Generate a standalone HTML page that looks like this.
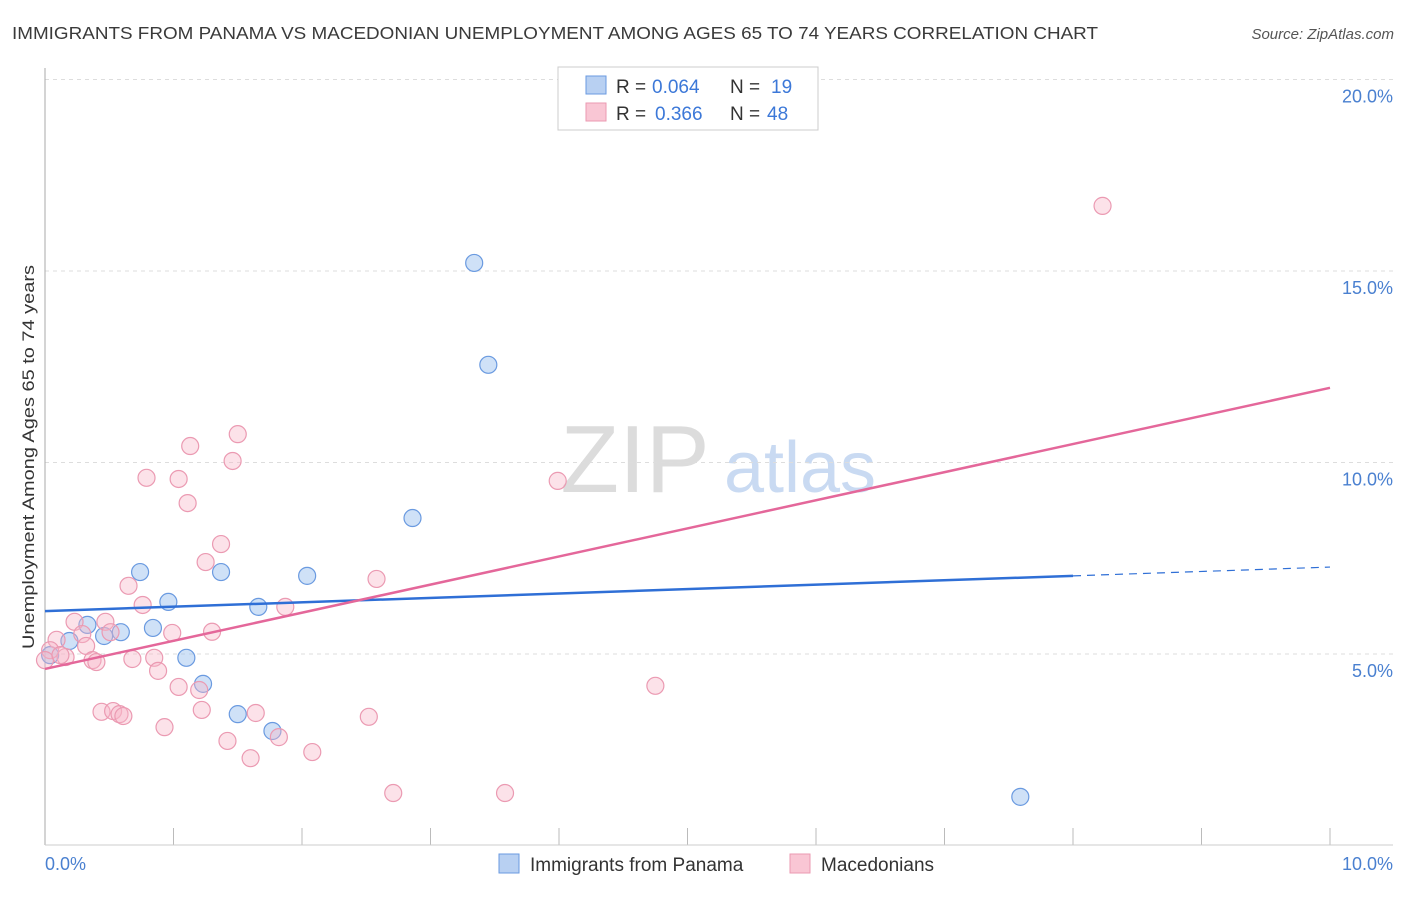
<!DOCTYPE html>
<html><head><meta charset="utf-8"><style>
body{margin:0;background:#fff;font-family:"Liberation Sans",sans-serif}
svg text{font-family:"Liberation Sans",sans-serif}
</style></head><body>
<svg id="c" width="1406" height="892">
<text x="12" y="39" font-size="17.5" fill="#3a3a3a" textLength="1086" lengthAdjust="spacingAndGlyphs">IMMIGRANTS FROM PANAMA VS MACEDONIAN UNEMPLOYMENT AMONG AGES 65 TO 74 YEARS CORRELATION CHART</text>
<text x="1394" y="39" font-size="15" fill="#555" font-style="italic" text-anchor="end">Source: ZipAtlas.com</text>
<text x="635" y="492" font-size="96" fill="#dcdcdc" font-family="Liberation Serif" text-anchor="middle">ZIP</text>
<text x="800" y="492" font-size="72" fill="#c9daf2" text-anchor="middle">atlas</text>
<g id="grid"></g>
<line x1="45" y1="68" x2="45" y2="845" stroke="#aaa"/>
<line x1="45" y1="845" x2="1393" y2="845" stroke="#ccc"/>
<g id="marks"></g>
<text transform="translate(34,457) rotate(-90)" font-size="17" fill="#333" text-anchor="middle" textLength="384" lengthAdjust="spacingAndGlyphs">Unemployment Among Ages 65 to 74 years</text>
<text x="45" y="870" font-size="18" fill="#4a80d0">0.0%</text>
<text x="1393" y="870" font-size="18" fill="#4a80d0" text-anchor="end">10.0%</text>
<g>
<rect x="558" y="67" width="260" height="63" fill="#fff" stroke="#ccc"/>
<rect x="586" y="76" width="20" height="18" fill="#b8d0f2" stroke="#6a9ae0"/>
<rect x="586" y="103" width="20" height="18" fill="#f9c6d4" stroke="#eb9ab2"/>
<text x="616" y="93" font-size="19" fill="#333">R =</text>
<text x="652" y="93" font-size="19" fill="#3c78d8">0.064</text>
<text x="730" y="93" font-size="19" fill="#333">N =</text>
<text x="771" y="93" font-size="19" fill="#3c78d8">19</text>
<text x="616" y="120" font-size="19" fill="#333">R =</text>
<text x="655" y="120" font-size="19" fill="#3c78d8">0.366</text>
<text x="730" y="120" font-size="19" fill="#333">N =</text>
<text x="767" y="120" font-size="19" fill="#3c78d8">48</text>
</g>
<g>
<rect x="499" y="854" width="20" height="19" fill="#b8d0f2" stroke="#6a9ae0"/>
<text x="530" y="871" font-size="19" fill="#333">Immigrants from Panama</text>
<rect x="790" y="854" width="20" height="19" fill="#f9c6d4" stroke="#eb9ab2"/>
<text x="821" y="871" font-size="19" fill="#333">Macedonians</text>
</g>
</svg>
<script>
const yTicks=[5,10,15,20];
const yTickLabels=["5.0%","10.0%","15.0%","20.0%"];
const xTicks=[0,1,2,3,4,5,6,7,8,9,10];
const blueX=[3.34,3.45,2.86,0.74,1.37,2.04,0.96,1.66,0.33,0.84,0.59,0.46,0.19,1.10,1.23,1.50,1.77,7.59,0.04];
const blueY=[15.21,12.55,8.55,7.14,7.14,7.04,6.36,6.23,5.76,5.68,5.57,5.47,5.34,4.90,4.22,3.43,2.99,1.27,4.97];
const pinkX=[8.23,1.50,1.13,1.46,0.79,1.04,3.99,1.11,1.37,1.25,2.58,0.65,0.76,1.87,0.99,1.30,0.47,0.23,0.29,0.32,0.09,0.04,0.16,0.37,0.40,0.68,0.85,0.88,1.04,1.20,4.75,1.22,0.44,0.53,0.58,0.61,2.52,0.93,1.64,1.42,1.82,2.08,1.60,2.71,3.58,0.0,0.12,0.51];
const pinkY=[16.70,10.74,10.43,10.04,9.60,9.57,9.52,8.94,7.87,7.40,6.96,6.78,6.28,6.23,5.55,5.58,5.84,5.84,5.52,5.21,5.37,5.10,4.92,4.84,4.79,4.87,4.90,4.56,4.14,4.06,4.17,3.54,3.49,3.51,3.43,3.38,3.36,3.09,3.46,2.73,2.83,2.44,2.28,1.37,1.37,4.84,4.97,5.57];
const blueLine=[6.12,7.27];
const blueSolidEnd=8;
const pinkLine=[4.61,11.95];
const xs=v=>45+v*128.5, ys=v=>845.5-v*38.3;
const NS="http://www.w3.org/2000/svg";
function mk(t,a,p){const e=document.createElementNS(NS,t);for(const k in a)e.setAttribute(k,a[k]);p.appendChild(e);return e;}
const g=document.getElementById('grid'), m=document.getElementById('marks');
yTicks.forEach((v,i)=>{
 const l=mk('line',{x1:45,x2:1393,y1:ys(v),y2:ys(v),stroke:'#ddd','stroke-dasharray':'4,4'},g);
 
 
 const t=mk('text',{x:1393,y:ys(v)+23,'font-size':18,fill:'#4a80d0','text-anchor':'end'},g);
 t.textContent=yTickLabels[i];
 
 
});
xTicks.forEach(v=>{
 const l=mk('line',{x1:xs(v),x2:xs(v),y1:828,y2:845,stroke:'#bbb'},g);
 
 
});
blueX.forEach((x,i)=>{
 const c=mk('circle',{cx:xs(x),cy:ys(blueY[i]),r:8.5,fill:'rgba(160,195,240,0.5)',stroke:'#6a9ae0','stroke-width':1.2},m);
 
 
});
pinkX.forEach((x,i)=>{
 const c=mk('circle',{cx:xs(x),cy:ys(pinkY[i]),r:8.5,fill:'rgba(248,182,200,0.4)',stroke:'#eb9ab2','stroke-width':1.2},m);
 
 
});
const by=x=>blueLine[0]+(blueLine[1]-blueLine[0])*x/10;
const bl=mk('line',{x1:xs(0),y1:ys(by(0)),x2:xs(blueSolidEnd),y2:ys(by(blueSolidEnd)),stroke:'#2f6fd6','stroke-width':2.5},m);


const bd=mk('line',{x1:xs(blueSolidEnd),y1:ys(by(blueSolidEnd)),x2:xs(10),y2:ys(by(10)),stroke:'#2f6fd6','stroke-width':1.2,'stroke-dasharray':'8,6'},m);


const pl=mk('line',{x1:xs(0),y1:ys(pinkLine[0]),x2:xs(10),y2:ys(pinkLine[1]),stroke:'#e4679a','stroke-width':2.5},m);


</script>
</body></html>
